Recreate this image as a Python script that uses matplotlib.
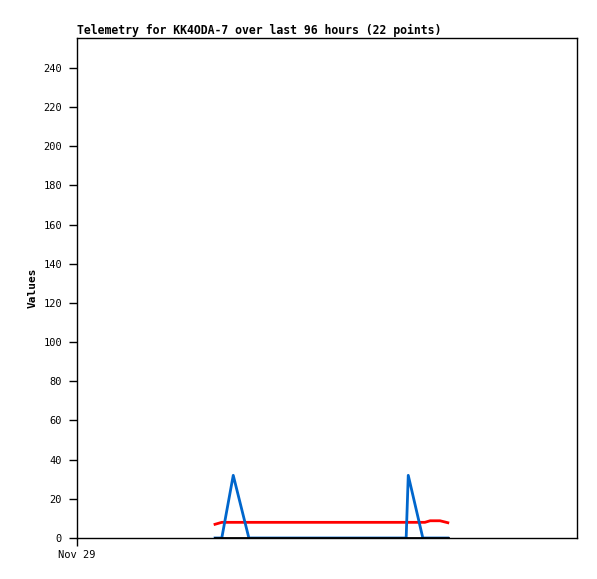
import matplotlib
matplotlib.use('Agg')
import matplotlib.pyplot as plt

# hours since Nov 29 00:00
hours = [26.5, 27.8, 30.0, 33.0, 35.5, 38.0, 40.5, 43.0, 45.5, 48.0, 50.5,
         53.0, 55.5, 58.0, 60.5, 63.2, 63.6, 66.4, 66.8, 67.8, 69.7, 71.2]
red_vals = [7, 8, 8, 8, 8, 8, 8, 8, 8, 8, 8,
            8, 8, 8, 8, 8, 8, 8, 8, 8.8, 8.8, 7.8]
blue_vals = [0, 0, 32, 0, 0, 0, 0, 0, 0, 0, 0,
             0, 0, 0, 0, 0, 32, 0, 0, 0, 0, 0]
black_vals = [0] * 22

y_ticks = list(range(0, 241, 20))

fig = plt.figure(figsize=(5.97, 5.79), dpi=100)
ax = fig.add_axes([77 / 597, 41 / 579, 500 / 597, 500 / 579])

ax.plot(hours, red_vals, color='#ff0000', linewidth=2, zorder=2)
ax.plot(hours, blue_vals, color='#0066cc', linewidth=2, zorder=3)
ax.plot(hours, black_vals, color='black', linewidth=2, zorder=4)

ax.set_xlim(0, 96)
ax.set_ylim(0, 255.3)
ax.set_yticks(y_ticks)
ax.set_xticks([0])
ax.set_xticklabels(['Nov 29'])

font = 'DejaVu Sans Mono'
for lbl in ax.get_yticklabels() + ax.get_xticklabels():
    lbl.set_family(font)
    lbl.set_fontsize(7.5)
ax.tick_params(direction='out', length=5.8, width=1)
ax.tick_params(axis='y', pad=5)
ax.tick_params(axis='x', pad=2.5)
for s in ax.spines.values():
    s.set_linewidth(1)

ax.set_title('Telemetry for KK4ODA-7 over last 96 hours (22 points)',
             family=font, fontsize=8.3, fontweight='bold', loc='left', pad=3)
ax.set_ylabel('Values', family=font, fontsize=8, fontweight='bold', labelpad=4)

fig.savefig('out.png', dpi=100)
